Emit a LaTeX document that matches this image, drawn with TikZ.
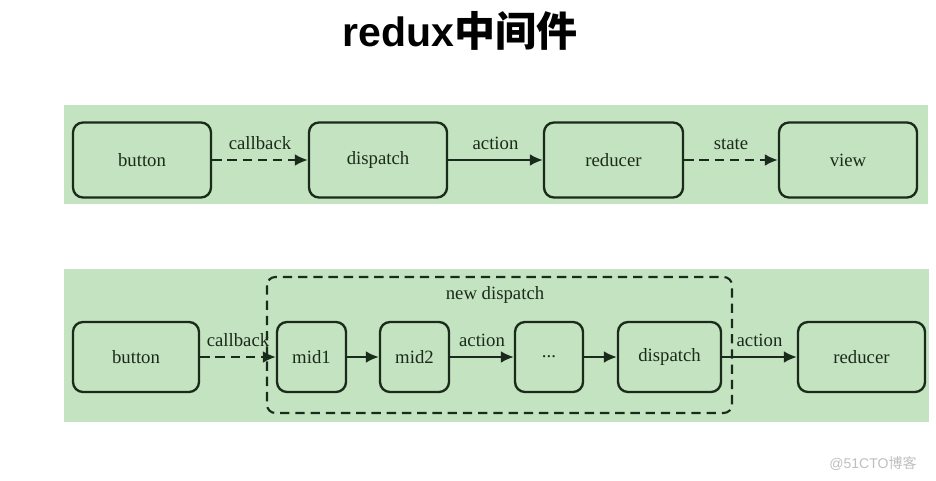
\documentclass[tikz,border=0pt]{standalone}
\usepackage{fontspec}
\setmainfont{Liberation Serif}
\newfontfamily\cjk{Noto Sans CJK SC}
\newfontfamily\titlefont{Liberation Sans}
\newfontfamily\markfont{Liberation Sans}
\usetikzlibrary{arrows.meta}

\begin{document}
\begin{tikzpicture}[x=0.03cm, y=-0.03cm,
    box/.style={draw=lineColour, fill=bandColour, line width=2pt, rounded corners=0.3cm,
        minimum height=2.25cm, font=\fontsize{16}{19}\selectfont, text=lineColour},
    lowbox/.style={box, minimum height=2.1cm},
    flow/.style={draw=lineColour, line width=1.8pt, -{Latex[length=11pt,width=10pt]}},
    dashflow/.style={flow, dash pattern=on 8pt off 5pt},
    lbl/.style={font=\fontsize{16}{19}\selectfont, text=lineColour, above=5pt}]
    \definecolor{bandColour}{HTML}{C4E3C0}
    \definecolor{lineColour}{HTML}{1B2B1B}

    % Canvas
    \useasboundingbox[fill=white] (0,0) rectangle (936,480);

    % Title
    \node (title) at (460,31) {\fontsize{35}{38}\selectfont\titlefont\bfseries redux\cjk\bfseries 中间件};

    % Bands
    \fill[bandColour] (64,105) rectangle (928,204);
    \fill[bandColour] (64,269) rectangle (929,422);

    % Top row
    \node[box, minimum width=4.14cm] (button) at (142,160) {button};
    \node[box, minimum width=4.14cm] (dispatch) at (378,160) {dispatch};
    \node[box, minimum width=4.17cm] (reducer) at (613.5,160) {reducer};
    \node[box, minimum width=4.14cm] (view) at (848,160) {view};

    \draw[dashflow] (button) -- node[lbl] {callback} (dispatch);
    \draw[flow] (dispatch) -- node[lbl] {action} (reducer);
    \draw[dashflow] (reducer) -- node[lbl] {state} (view);

    % Bottom row
    \draw[draw=lineColour, line width=1.8pt, dash pattern=on 8pt off 5pt, rounded corners=0.25cm]
        (267,277) rectangle (732,413);
    \node[font=\fontsize{16}{19}\selectfont, text=lineColour] (newdispatch) at (495,295) {new dispatch};

    \node[lowbox, minimum width=3.78cm] (button2) at (136,357) {button};
    \node[lowbox, minimum width=2.07cm] (mid1) at (311.5,357) {mid1};
    \node[lowbox, minimum width=2.07cm] (mid2) at (414.5,357) {mid2};
    \node[lowbox, minimum width=2.04cm] (more) at (549,357) {...};
    \node[lowbox, minimum width=3.09cm] (dispatch2) at (669.5,357) {dispatch};
    \node[lowbox, minimum width=3.81cm] (reducer2) at (861.5,357) {reducer};

    \draw[dashflow] (button2) -- node[lbl] {callback} (mid1);
    \draw[flow] (mid1) -- (mid2);
    \draw[flow] (mid2) -- node[lbl] {action} (more);
    \draw[flow] (more) -- (dispatch2);
    \draw[flow] (dispatch2) -- node[lbl] {action} (reducer2);

    % Watermark
    \node[text=black!25, font=\fontsize{12}{14}\selectfont\markfont] (mark) at (873,463) {@51CTO\cjk 博客};

\end{tikzpicture}
\end{document}
